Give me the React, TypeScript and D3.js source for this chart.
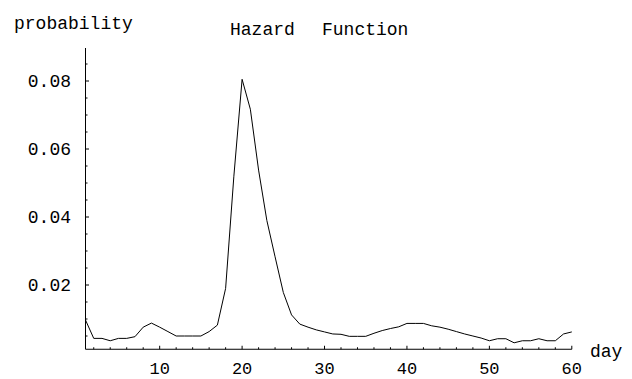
import React from "react";
import * as d3 from "d3";

// day index 1..60
const days = d3.range(1, 61);
const hazard = [
  0.0097, 0.0043, 0.0043, 0.0036, 0.0043, 0.0043, 0.0048, 0.0076, 0.0088, 0.0076,
  0.0063, 0.005, 0.005, 0.005, 0.005, 0.0063, 0.0082, 0.019, 0.052, 0.0805,
  0.0717, 0.0538, 0.039, 0.0283, 0.0178, 0.0112, 0.0085, 0.0076, 0.0068, 0.0062,
  0.0056, 0.0055, 0.0049, 0.0049, 0.0049, 0.0058, 0.0066, 0.0072, 0.0077, 0.0087,
  0.0087, 0.0087, 0.008, 0.0076, 0.007, 0.0063, 0.0056, 0.005, 0.0044, 0.0036,
  0.0042, 0.0042, 0.003, 0.0036, 0.0036, 0.0042, 0.0036, 0.0036, 0.0056, 0.0062,
];
const xTicks = [10, 20, 30, 40, 50, 60];
const yTicks = [0.02, 0.04, 0.06, 0.08];
const xMinor = d3.range(2, 61, 2).filter((d) => d % 10 !== 0);
const yMinor = d3.range(0.005, 0.09, 0.005).filter((d) => Math.abs(d / 0.02 - Math.round(d / 0.02)) > 0.01);

const font = "'Liberation Mono', 'DejaVu Sans Mono', monospace";

export default function App() {
  const width = 632;
  const height = 379;

  const x = d3.scaleLinear().domain([1, 60]).range([85.5, 571.8]);
  const y = d3.scaleLinear().domain([0, 0.08]).range([353, 81]);
  const originY = y(0.0011);
  const topY = 48;

  const line = d3
    .line<number>()
    .x((d, i) => x(days[i]))
    .y((d) => y(d));

  return (
    <svg width={width} height={height} style={{ position: "absolute", left: 0, top: 0, background: "#fff" }}>
      <text x={14} y={29} fontFamily={font} fontSize={18} fill="#000">
        probability
      </text>
      {/* title, two words spaced apart like the original */}
      <text x={230} y={35} fontFamily={font} fontSize={18} fill="#000">
        Hazard
      </text>
      <text x={322} y={35} fontFamily={font} fontSize={18} fill="#000">
        Function
      </text>

      {/* axes */}
      <line x1={x(1)} x2={x(60)} y1={originY} y2={originY} stroke="#000" strokeWidth={1} />
      <line x1={x(1)} x2={x(1)} y1={originY} y2={topY} stroke="#000" strokeWidth={1} />

      {xTicks.map((t) => (
        <g key={"xt" + t}>
          <line x1={x(t)} x2={x(t)} y1={originY} y2={originY - 3.5} stroke="#000" />
          <text x={x(t)} y={373.5} textAnchor="middle" fontFamily={font} fontSize={17} fill="#000">
            {t}
          </text>
        </g>
      ))}
      {xMinor.map((t) => (
        <line key={"xm" + t} x1={x(t)} x2={x(t)} y1={originY} y2={originY - 2} stroke="#000" />
      ))}

      {yTicks.map((t) => (
        <g key={"yt" + t}>
          <line x1={x(1)} x2={x(1) + 3.5} y1={y(t)} y2={y(t)} stroke="#000" />
          <text x={71} y={y(t) + 6} textAnchor="end" fontFamily={font} fontSize={18} fill="#000">
            {d3.format(".2f")(t)}
          </text>
        </g>
      ))}
      {yMinor.map((t) => (
        <line key={"ym" + t} x1={x(1)} x2={x(1) + 2} y1={y(t)} y2={y(t)} stroke="#000" />
      ))}

      <text x={590} y={357} fontFamily={font} fontSize={18} fill="#000">
        day
      </text>

      <path d={line(hazard) || ""} fill="none" stroke="#000" strokeWidth={1} />
    </svg>
  );
}
